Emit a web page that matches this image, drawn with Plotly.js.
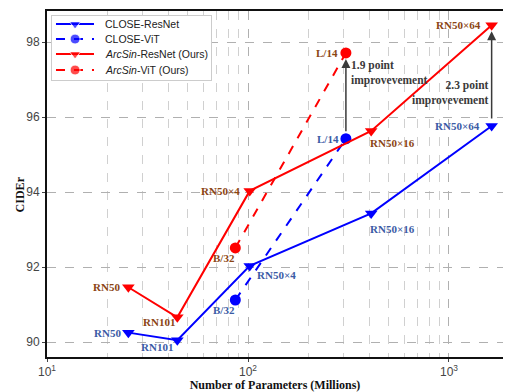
<!DOCTYPE html>
<html>
<head>
<meta charset="utf-8">
<script src="https://cdn.plot.ly/plotly-3.0.1.min.js"></script>
<style>html,body{margin:0;padding:0;background:#fff;}#chart{width:505px;height:392px;}</style>
</head>
<body>
<div id="chart"></div>
<script>
// ---- data ----
const resnetLabels = ["RN50", "RN101", "RN50×4", "RN50×16", "RN50×64"];
const resnetParams = [25.4, 44.5, 102, 410, 1630];
const closeResnet = [90.25, 90.05, 92.03, 93.43, 95.76];
const arcsinResnet = [91.46, 90.66, 94.03, 95.63, 98.45];

const vitLabels = ["B/32", "L/14"];
const vitParams = [86.5, 307];
const closeVit = [91.12, 95.42];
const arcsinVit = [92.51, 97.71];

const seriesNames = ["CLOSE-ResNet", "CLOSE-ViT", "<i>ArcSin</i>-ResNet (Ours)", "<i>ArcSin</i>-ViT (Ours)"];
const improvementTexts = ["1.9 point<br>improvevement", "2.3 point<br>improvevement"];

const xTickVals = [10, 100, 1000];
const xTickText = ["10<sup>1</sup>", "10<sup>2</sup>", "10<sup>3</sup>"];
const yTickVals = [90, 92, 94, 96, 98];
const minorVals = [20,30,40,50,60,70,80,90,200,300,400,500,600,700,800,900];

const BLUE = "#0000ff", RED = "#ff0000";
const BROWN = "#8b4513", LBLUE = "#3b5ba5";

const styles = [
  {color: BLUE, dash: "solid", symbol: "triangle-down"},
  {color: BLUE, dash: "dash", symbol: "circle"},
  {color: RED, dash: "solid", symbol: "triangle-down"},
  {color: RED, dash: "dash", symbol: "circle"}
];
const seriesX = [resnetParams, vitParams, resnetParams, vitParams];
const seriesY = [closeResnet, closeVit, arcsinResnet, arcsinVit];

const traces = seriesY.map((ys, k) => ({
  x: seriesX[k], y: ys, name: seriesNames[k], mode: "lines+markers", showlegend: false,
  line: {color: styles[k].color, width: 2, dash: styles[k].dash},
  marker: {symbol: styles[k].symbol, size: 11, color: styles[k].color}
}));

// custom compact legend drawn in an inset subplot
const legRowY = [0.875, 0.64, 0.406, 0.156];
const legSampleX = [0.025, 0.145, 0.264];
seriesNames.forEach((n, k) => {
  traces.push({x: legSampleX, y: [legRowY[k], legRowY[k], legRowY[k]], xaxis: "x2", yaxis: "y2",
    mode: "lines+markers", showlegend: false, hoverinfo: "skip",
    line: {color: styles[k].color, width: 2, dash: styles[k].dash},
    marker: {symbol: styles[k].symbol, size: [0, 10, 0], color: styles[k].color}});
});

const lblFont = (c) => ({family: "Liberation Serif, Times New Roman, serif", size: 11, color: c, weight: "bold"});
function lbl(x, y, text, color, xanchor, xshift, yshift) {
  return {x: Math.log10(x), y: y, xref: "x", yref: "y", text: "<b>" + text + "</b>", showarrow: false,
          xanchor: xanchor, yanchor: "middle", xshift: xshift, yshift: yshift, font: lblFont(color)};
}
// offsets per label [xanchor, xshift, yshift]
const arcResOff = [["right",-6,0],["right",0,-5],["right",-8,0],["left",-3,-12],["right",-9,0]];
const cloResOff = [["right",-5,0],["right",-2,-7],["left",5,-9],["left",-3,-16],["right",-10,0]];
const arcVitOff = [["right",2,-10],["right",-6,0]];
const cloVitOff = [["right",2,-10],["right",-5,0]];

const ann = [];
resnetLabels.forEach((t, i) => {
  ann.push(lbl(resnetParams[i], arcsinResnet[i], t, BROWN, ...arcResOff[i]));
  ann.push(lbl(resnetParams[i], closeResnet[i], t, LBLUE, ...cloResOff[i]));
});
vitLabels.forEach((t, i) => {
  ann.push(lbl(vitParams[i], arcsinVit[i], t, BROWN, ...arcVitOff[i]));
  ann.push(lbl(vitParams[i], closeVit[i], t, LBLUE, ...cloVitOff[i]));
});

// improvement arrows
function arrow(x, yFrom, yTo) {
  return {x: Math.log10(x), y: yTo, ax: Math.log10(x), ay: yFrom, xref: "x", yref: "y", axref: "x", ayref: "y",
          showarrow: true, arrowhead: 2, arrowsize: 1.2, arrowwidth: 1.5, arrowcolor: "#3a3a3a",
          standoff: 6, startstandoff: 6, text: ""};
}
const iL = 1, iR = 4;
ann.push(arrow(vitParams[iL], closeVit[iL], arcsinVit[iL]));
ann.push(arrow(resnetParams[iR], closeResnet[iR], arcsinResnet[iR]));
const impFont = {family: "Liberation Serif, Times New Roman, serif", size: 11.5, color: "#3a3a3a", weight: "bold"};
ann.push({x: Math.log10(vitParams[iL]), y: (closeVit[iL] + arcsinVit[iL]) / 2, xref: "x", yref: "y",
  text: "<b>" + improvementTexts[0] + "</b>", showarrow: false,
  xanchor: "left", yanchor: "middle", align: "left", xshift: 3, yshift: 23, font: impFont});
ann.push({x: Math.log10(resnetParams[iR]), y: (closeResnet[iR] + arcsinResnet[iR]) / 2, xref: "x", yref: "y",
  text: "<b>" + improvementTexts[1] + "</b>", showarrow: false,
  xanchor: "right", yanchor: "middle", align: "right", xshift: -1, yshift: -17, font: impFont});

// legend texts
seriesNames.forEach((n, k) => {
  ann.push({x: 0.32, y: legRowY[k], xref: "x2", yref: "y2", text: n, showarrow: false,
    xanchor: "left", yanchor: "middle",
    font: {family: "Liberation Sans, Arial, sans-serif", size: 10.5, color: "#222"}});
});

// y-axis title
ann.push({x: 0, y: 0.47, xref: "paper", yref: "paper", xshift: -27, text: "<b>CIDEr</b>", showarrow: false,
  textangle: -90, xanchor: "center", yanchor: "middle",
  font: {family: "Liberation Serif, Times New Roman, serif", size: 12, color: "#111"}});

const layout = {
  width: 505, height: 392,
  margin: {l: 47, r: 2, t: 11, b: 35},
  paper_bgcolor: "#fff", plot_bgcolor: "#fff",
  showlegend: false,
  xaxis: {type: "log", range: [1, 3.2687], tickvals: xTickVals, ticktext: xTickText,
          showline: true, linecolor: "#111", linewidth: 2, mirror: true,
          showgrid: true, gridcolor: "#b0b0b0", griddash: "dash", gridwidth: 1,
          ticks: "outside", ticklen: 3, tickcolor: "#444",
          tickfont: {family: "Liberation Sans, Arial, sans-serif", size: 12, color: "#444"},
          minor: {tickvals: minorVals, showgrid: true, gridcolor: "#d0d0d0", griddash: "dash", gridwidth: 1, ticks: ""},
          zeroline: false,
          title: {text: "<b>Number of Parameters (Millions)</b>", standoff: 0,
                  font: {family: "Liberation Serif, Times New Roman, serif", size: 12, color: "#111"}}},
  yaxis: {range: [89.6, 98.827], tickvals: yTickVals,
          showline: true, linecolor: "#111", linewidth: 2, mirror: false,
          showgrid: true, gridcolor: "#b0b0b0", griddash: "dash", gridwidth: 1,
          ticks: "outside", ticklen: 3, tickcolor: "#444",
          tickfont: {family: "Liberation Sans, Arial, sans-serif", size: 12, color: "#444"},
          zeroline: false},
  xaxis2: {domain: [0.011, 0.3596], anchor: "y2", range: [0, 1], showgrid: false, zeroline: false,
           showticklabels: false, ticks: "", showline: true, mirror: true, linecolor: "#cccccc", linewidth: 1},
  yaxis2: {domain: [0.8006, 0.9855], anchor: "x2", range: [0, 1], showgrid: false, zeroline: false,
           showticklabels: false, ticks: "", showline: true, mirror: true, linecolor: "#cccccc", linewidth: 1},
  annotations: ann
};

Plotly.newPlot("chart", traces, layout, {displayModeBar: false, staticPlot: true});
</script>
</body>
</html>
